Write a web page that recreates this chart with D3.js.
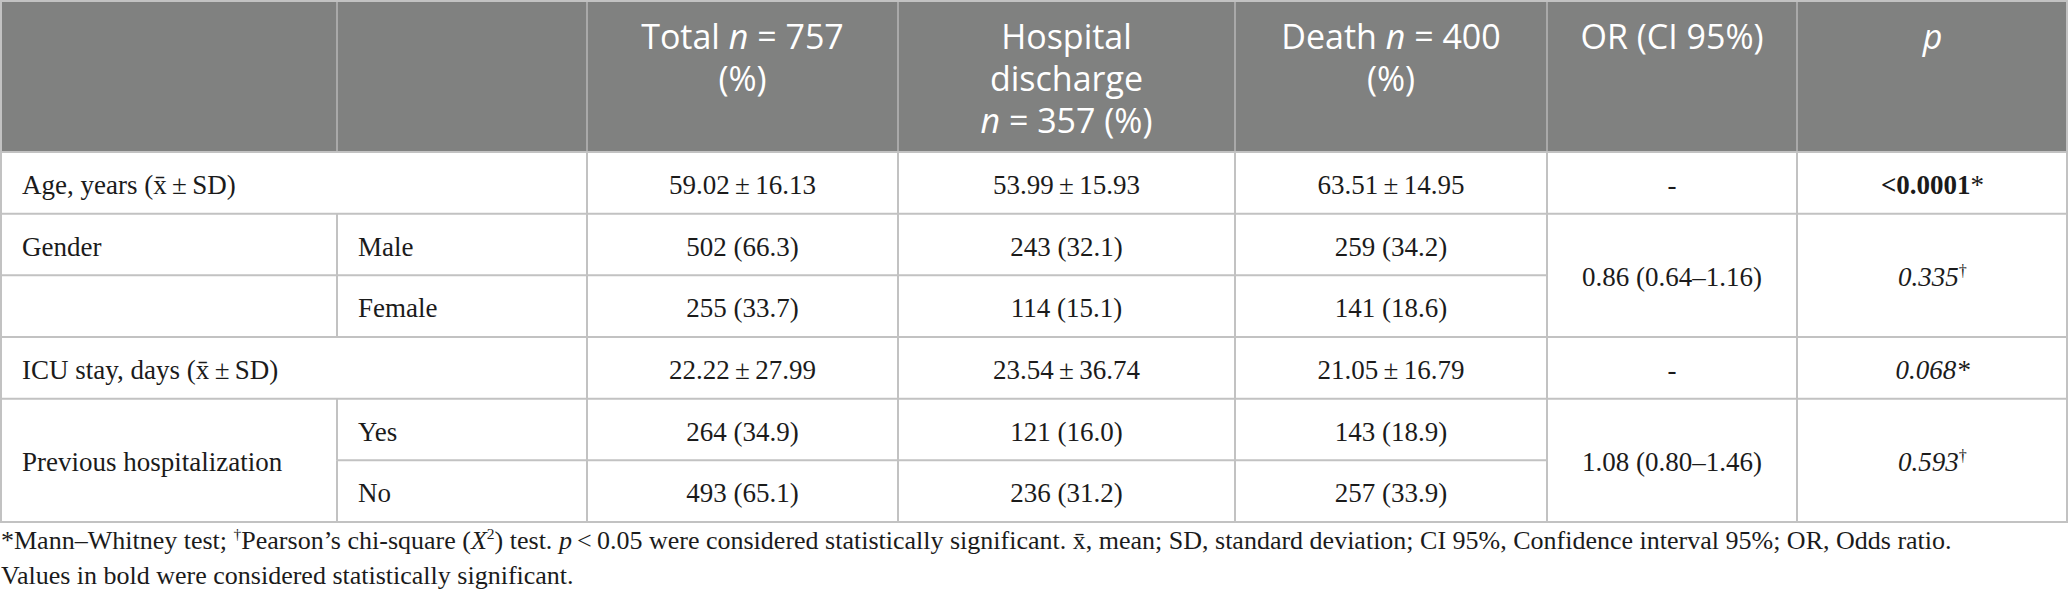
<!DOCTYPE html>
<html>
<head>
<meta charset="utf-8">
<script src="https://cdn.jsdelivr.net/npm/d3@7"></script>
<style>
  body { margin: 0; background: #fff; }
</style>
</head>
<body>
<div id="chart"></div>
<script>
// Table content. Markers: _italic_, ^superscript^, ~bold~, | = new line
const headers = ["", "", "Total _n_ = 757|(%)", "Hospital|discharge|_n_ = 357 (%)", "Death _n_ = 400|(%)", "OR (CI 95%)", "_p_"];

const variables = ["Age, years (x\u0304\u2009\u00b1\u2009SD)", "Gender", "ICU stay, days (x\u0304\u2009\u00b1\u2009SD)", "Previous hospitalization"];
const levels = [[""], ["Male", "Female"], [""], ["Yes", "No"]];
// label centred over its levels or sitting in the first level row
const labelMerged = [false, false, false, true];

const total = ["59.02\u2009\u00b1\u200916.13", "502 (66.3)", "255 (33.7)", "22.22\u2009\u00b1\u200927.99", "264 (34.9)", "493 (65.1)"];
const discharge = ["53.99\u2009\u00b1\u200915.93", "243 (32.1)", "114 (15.1)", "23.54\u2009\u00b1\u200936.74", "121 (16.0)", "236 (31.2)"];
const death = ["63.51\u2009\u00b1\u200914.95", "259 (34.2)", "141 (18.6)", "21.05\u2009\u00b1\u200916.79", "143 (18.9)", "257 (33.9)"];
const oddsRatio = ["-", "0.86 (0.64\u20131.16)", "-", "1.08 (0.80\u20131.46)"];
const pValues = ["~<0.0001~*", "_0.335_^\u2020^", "_0.068*_", "_0.593_^\u2020^"];

const footnotes = [
  "*Mann\u2013Whitney test; ^\u2020^Pearson\u2019s chi-square (_X_^2^) test. _p_\u2009<\u20090.05 were considered statistically significant. x\u0304, mean; SD, standard deviation; CI 95%, Confidence interval 95%; OR, Odds ratio.",
  "Values in bold were considered statistically significant."
];

// Layout
const width = 2068, height = 595;
const colWidths = [337, 250, 311, 337, 312, 250, 271];
const headerH = 152, tableBottom = 522;
const bodyFont = "'Liberation Serif', 'DejaVu Serif', serif";
const headFont = "'Open Sans', 'Noto Sans', sans-serif";
const lineColor = "#c2c2c2";

const colEdges = [0].concat(Array.from(d3.cumsum(colWidths)));
const colMid = i => (colEdges[i] + colEdges[i + 1]) / 2;

// flatten variables into rows
let rows = [];
variables.forEach((v, vi) => {
  levels[vi].forEach((l, li) => rows.push({ v: vi, level: l, first: li === 0, last: li === levels[vi].length - 1 }));
});

let y = d3.scaleBand()
    .domain(d3.range(rows.length))
    .range([headerH, tableBottom]);

let svg = d3.select("#chart").append("svg")
    .attr("width", width)
    .attr("height", height);

// rich text into a <text> element
function rich(textEl, str, fs) {
  const parts = str.split(/(_[^_]+_|\^[^^]+\^|~[^~]+~)/).filter(s => s.length);
  let raised = 0;
  parts.forEach(p => {
    let t = textEl.append("tspan");
    let s = p;
    if (p[0] === "_" && p.length > 1 && p[p.length - 1] === "_") { s = p.slice(1, -1); t.style("font-style", "italic"); }
    else if (p[0] === "~" && p.length > 1) { s = p.slice(1, -1); t.style("font-weight", "bold"); }
    if (p[0] === "^" && p.length > 1) {
      s = p.slice(1, -1);
      t.attr("font-size", fs * 0.6).attr("dy", -fs * 0.38 - raised);
      raised = -fs * 0.38;
    } else if (raised) {
      t.attr("dy", -raised);
      raised = 0;
    }
    t.text(s);
  });
}

// header background
svg.append("rect")
    .attr("x", 0).attr("y", 0)
    .attr("width", width).attr("height", headerH)
    .attr("fill", "#808180");

// header text
headers.forEach((h, i) => {
  if (!h) return;
  h.split("|").forEach((line, li) => {
    let t = svg.append("text")
        .attr("x", colMid(i))
        .attr("y", 49 + li * 42)
        .attr("text-anchor", "middle")
        .attr("font-family", headFont)
        .attr("font-size", 34)
        .attr("fill", "#fff");
    rich(t, line, 34);
  });
});

// header dividers
svg.append("g").selectAll("line")
    .data(colEdges.slice(1, -1))
    .join("line")
    .attr("x1", d => d).attr("x2", d => d)
    .attr("y1", 0).attr("y2", headerH)
    .attr("stroke", "#a9a9a9").attr("stroke-width", 2);

const body = svg.append("g")
    .attr("font-family", bodyFont)
    .attr("font-size", 27)
    .attr("fill", "#1b1b1b");

const baseline = i => y(i) + y.bandwidth() / 2 + 11;

// variable labels
variables.forEach((v, vi) => {
  const idx = rows.map((r, i) => r.v === vi ? i : -1).filter(i => i >= 0);
  const i0 = idx[0], i1 = idx[idx.length - 1];
  const cy = labelMerged[vi] ? (y(i0) + y(i1) + y.bandwidth()) / 2 + 11 : baseline(i0);
  let t = body.append("text").attr("x", 22).attr("y", cy);
  rich(t, v, 27);

  // odds ratio and p value centred over the group
  const my = (y(i0) + y(i1) + y.bandwidth()) / 2 + 11;
  rich(body.append("text").attr("x", colMid(5)).attr("y", my).attr("text-anchor", "middle"), oddsRatio[vi], 27);
  rich(body.append("text").attr("x", colMid(6)).attr("y", my).attr("text-anchor", "middle"), pValues[vi], 27);
});

// level labels and counts
rows.forEach((r, i) => {
  if (r.level) body.append("text").attr("x", colEdges[1] + 21).attr("y", baseline(i)).text(r.level);
  [total, discharge, death].forEach((col, ci) => {
    body.append("text")
        .attr("x", colMid(ci + 2))
        .attr("y", baseline(i))
        .attr("text-anchor", "middle")
        .text(col[i]);
  });
});

// grid lines in the body
const grid = svg.append("g").attr("stroke", lineColor).attr("stroke-width", 2);

rows.forEach((r, i) => {
  const yy = y(i);
  if (i === 0) return;
  if (r.first) {
    grid.append("line").attr("x1", 0).attr("x2", width).attr("y1", yy).attr("y2", yy);
  } else {
    const x0 = labelMerged[r.v] ? colEdges[1] : 0;
    grid.append("line").attr("x1", x0).attr("x2", colEdges[5]).attr("y1", yy).attr("y2", yy);
  }
});
grid.append("line").attr("x1", 0).attr("x2", width).attr("y1", tableBottom).attr("y2", tableBottom);
grid.append("line").attr("x1", 0).attr("x2", width).attr("y1", 1).attr("y2", 1);
grid.append("line").attr("x1", 0).attr("x2", width).attr("y1", headerH).attr("y2", headerH);

colEdges.forEach((x, ci) => {
  const xx = Math.min(Math.max(x, 1), width - 1);
  if (ci === 1) {
    // divider between label and level only where levels exist
    rows.forEach((r, i) => {
      if (levels[r.v].length > 1)
        grid.append("line").attr("x1", xx).attr("x2", xx).attr("y1", y(i)).attr("y2", y(i) + y.bandwidth());
    });
  } else {
    grid.append("line").attr("x1", xx).attr("x2", xx).attr("y1", ci === 0 || ci === colEdges.length - 1 ? 0 : headerH).attr("y2", tableBottom);
  }
});

// footnotes
footnotes.forEach((f, i) => {
  let t = svg.append("text")
      .attr("x", 1)
      .attr("y", 549 + i * 35)
      .attr("font-family", bodyFont)
      .attr("font-size", 26)
      .attr("fill", "#1b1b1b");
  rich(t, f, 26);
});
</script>
</body>
</html>
